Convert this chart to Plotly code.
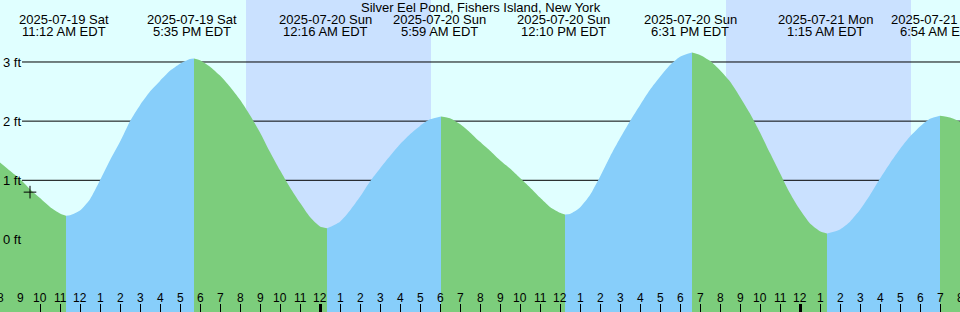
import plotly.graph_objects as go
import pandas as pd

# ---------------- data ----------------
title = "Silver Eel Pond, Fishers Island, New York"

curve_times = [
    "2025-07-19 08:00", "2025-07-19 08:30", "2025-07-19 09:00", "2025-07-19 09:30",
    "2025-07-19 10:00", "2025-07-19 10:30", "2025-07-19 11:00", "2025-07-19 11:18",
    "2025-07-19 11:30", "2025-07-19 12:00", "2025-07-19 12:30", "2025-07-19 13:00",
    "2025-07-19 13:30", "2025-07-19 14:00", "2025-07-19 14:30", "2025-07-19 15:00",
    "2025-07-19 15:30", "2025-07-19 16:00", "2025-07-19 16:30", "2025-07-19 17:00",
    "2025-07-19 17:30", "2025-07-19 17:42", "2025-07-19 18:00", "2025-07-19 18:30",
    "2025-07-19 19:00", "2025-07-19 19:30", "2025-07-19 20:00", "2025-07-19 20:30",
    "2025-07-19 21:00", "2025-07-19 21:30", "2025-07-19 22:00", "2025-07-19 22:30",
    "2025-07-19 23:00", "2025-07-19 23:30", "2025-07-20 00:00", "2025-07-20 00:21",
    "2025-07-20 00:30", "2025-07-20 01:00", "2025-07-20 01:30", "2025-07-20 02:00",
    "2025-07-20 02:30", "2025-07-20 03:00", "2025-07-20 03:30", "2025-07-20 04:00",
    "2025-07-20 04:30", "2025-07-20 05:00", "2025-07-20 05:30", "2025-07-20 06:03",
    "2025-07-20 06:30", "2025-07-20 07:00", "2025-07-20 07:30", "2025-07-20 08:00",
    "2025-07-20 08:30", "2025-07-20 09:00", "2025-07-20 09:30", "2025-07-20 10:00",
    "2025-07-20 10:30", "2025-07-20 11:00", "2025-07-20 11:30", "2025-07-20 12:00",
    "2025-07-20 12:15", "2025-07-20 12:30", "2025-07-20 13:00", "2025-07-20 13:30",
    "2025-07-20 14:00", "2025-07-20 14:30", "2025-07-20 15:00", "2025-07-20 15:30",
    "2025-07-20 16:00", "2025-07-20 16:30", "2025-07-20 17:00", "2025-07-20 17:30",
    "2025-07-20 18:00", "2025-07-20 18:36", "2025-07-20 19:00", "2025-07-20 19:30",
    "2025-07-20 20:00", "2025-07-20 20:30", "2025-07-20 21:00", "2025-07-20 21:30",
    "2025-07-20 22:00", "2025-07-20 22:30", "2025-07-20 23:00", "2025-07-20 23:30",
    "2025-07-21 00:00", "2025-07-21 00:30", "2025-07-21 01:00", "2025-07-21 01:21",
    "2025-07-21 02:00", "2025-07-21 02:30", "2025-07-21 03:00", "2025-07-21 03:30",
    "2025-07-21 04:00", "2025-07-21 04:30", "2025-07-21 05:00", "2025-07-21 05:30",
    "2025-07-21 06:00", "2025-07-21 06:30", "2025-07-21 07:00", "2025-07-21 07:30",
    "2025-07-21 08:00",
]
curve_ft = [
    1.30, 1.16, 1.02, 0.85,
    0.70, 0.55, 0.44, 0.40,
    0.41, 0.49, 0.68, 1.00,
    1.34, 1.65, 2.00, 2.27,
    2.50, 2.68, 2.85, 2.97,
    3.05, 3.06, 3.03, 2.92,
    2.77, 2.58, 2.36, 2.10,
    1.81, 1.48, 1.17, 0.88,
    0.62, 0.38, 0.22, 0.19,
    0.21, 0.30, 0.49, 0.72,
    0.98, 1.20, 1.41, 1.61,
    1.78, 1.92, 2.03, 2.08,
    2.05, 1.95, 1.81, 1.65,
    1.50, 1.34, 1.20, 1.04,
    0.88, 0.71, 0.55, 0.45,
    0.42, 0.43, 0.54, 0.75,
    1.06, 1.40, 1.71, 2.00,
    2.27, 2.53, 2.75, 2.95,
    3.09, 3.16, 3.12, 3.02,
    2.86, 2.67, 2.41, 2.13,
    1.81, 1.46, 1.12, 0.78,
    0.50, 0.27, 0.14, 0.10,
    0.17, 0.30, 0.50, 0.75,
    1.03, 1.29, 1.53, 1.74,
    1.91, 2.04, 2.09, 2.06,
    1.99,
]

event_times = [
    "2025-07-19 11:12", "2025-07-19 17:35", "2025-07-20 00:16", "2025-07-20 05:59",
    "2025-07-20 12:10", "2025-07-20 18:31", "2025-07-21 01:15", "2025-07-21 06:54",
]
sunset_times = ["2025-07-19 20:18", "2025-07-20 20:18"]
sunrise_times = ["2025-07-20 05:33", "2025-07-21 05:33"]

now_time = "2025-07-19 09:30"
now_ft = 0.80

y_ticks = [0, 1, 2, 3]
y_tick_text = ["0 ft", "1 ft", "2 ft", "3 ft"]

x_start, x_end = "2025-07-19 08:00", "2025-07-21 08:00"
y_range = [-1.2265, 4.048]

# ---------------- style ----------------
BG = "#E0FFFF"
NIGHT = "#CAE1FF"
FLOOD = "#87CEFA"
EBB = "#7CCD7C"
FONT = "Liberation Sans, Arial, sans-serif"
H = 312.0

fig = go.Figure()

t = pd.to_datetime(curve_times)
y = curve_ft
base = -1.6

ext = [0] + [i for i in range(1, len(y) - 1)
             if (y[i] - y[i - 1]) * (y[i + 1] - y[i]) < 0] + [len(y) - 1]
for a, b in zip(ext[:-1], ext[1:]):
    color = FLOOD if y[b] > y[a] else EBB
    fig.add_trace(go.Scatter(x=[t[a], t[b]], y=[base, base], mode="lines",
                             line=dict(width=0), showlegend=False, hoverinfo="skip"))
    fig.add_trace(go.Scatter(x=t[a:b + 1], y=y[a:b + 1], mode="lines",
                             line=dict(width=0, shape="spline", smoothing=0.6),
                             fill="tonexty", fillcolor=color,
                             showlegend=False, hoverinfo="skip"))

fig.add_trace(go.Scatter(x=[pd.Timestamp(now_time)], y=[now_ft], mode="markers",
                         marker=dict(symbol="cross-thin", size=9,
                                     line=dict(width=1, color="black")),
                         showlegend=False, hoverinfo="skip"))

# dummy trace for the midnight tick axis
fig.add_trace(go.Scatter(x=[pd.Timestamp(x_start)], y=[None], xaxis="x2",
                         mode="markers", showlegend=False, hoverinfo="skip"))

# night shading
for s, r in zip(sunset_times, sunrise_times):
    fig.add_shape(type="rect", xref="x", yref="paper", x0=s, x1=r, y0=0, y1=1,
                  fillcolor=NIGHT, line=dict(width=0), layer="below")

# grid lines
for v in y_ticks:
    fig.add_shape(type="line", xref="paper", yref="y", x0=22 / 960, x1=1, y0=v, y1=v,
                  line=dict(color="black", width=1), layer="between")

# event labels
ev = pd.to_datetime(event_times)
for e in ev:
    line1 = e.strftime("%Y-%m-%d %a")
    line2 = f"{e.hour % 12 or 12}:{e.minute:02d} {'AM' if e.hour < 12 else 'PM'} EDT"
    fig.add_annotation(x=e, xref="x", y=1 - 19.7 / H, yref="paper", text=line1,
                       showarrow=False, yanchor="middle", xanchor="center",
                       font=dict(size=13, color="black", family=FONT))
    fig.add_annotation(x=e, xref="x", y=1 - 31.3 / H, yref="paper", text=line2,
                       showarrow=False, yanchor="middle", xanchor="center",
                       font=dict(size=13, color="black", family=FONT))

fig.add_annotation(x=480.7 / 960, xref="paper", y=1 - 7.4 / H, yref="paper", text=title,
                   showarrow=False, yanchor="middle", xanchor="center",
                   font=dict(size=13, color="black", family=FONT))

# hour labels along the bottom
hours = pd.date_range(x_start, x_end, freq="h")
hour_text = [str(h.hour % 12 or 12) for h in hours]
midnights = [h for h in hours if h.hour == 0]
for h, txt in zip(hours, hour_text):
    fig.add_annotation(x=h, xref="x", y=1 - 298.3 / H, yref="paper", text=txt,
                       showarrow=False, yanchor="middle", xanchor="center",
                       font=dict(size=12, color="black", family=FONT))

fig.update_layout(
    width=960, height=312,
    margin=dict(l=0, r=0, t=0, b=0),
    paper_bgcolor=BG, plot_bgcolor=BG,
    showlegend=False,
    font=dict(family=FONT, color="black"),
    xaxis=dict(type="date", range=[x_start, x_end], tickvals=hours,
               ticks="inside", ticklen=8, tickwidth=1, tickcolor="black",
               showticklabels=False,
               showgrid=False, zeroline=False, showline=False, fixedrange=True),
    xaxis2=dict(type="date", range=[x_start, x_end], overlaying="x", anchor="y", side="bottom",
                tickvals=midnights, ticks="inside", ticklen=8, tickwidth=3, tickcolor="black",
                showticklabels=False, showgrid=False, zeroline=False, showline=False),
    yaxis=dict(range=y_range, tickvals=y_ticks, ticktext=y_tick_text,
               ticklabelposition="inside", ticks="",
               tickfont=dict(size=13, color="black", family=FONT),
               showgrid=False, zeroline=False, showline=False, fixedrange=True),
)

fig.write_html("out.html")
